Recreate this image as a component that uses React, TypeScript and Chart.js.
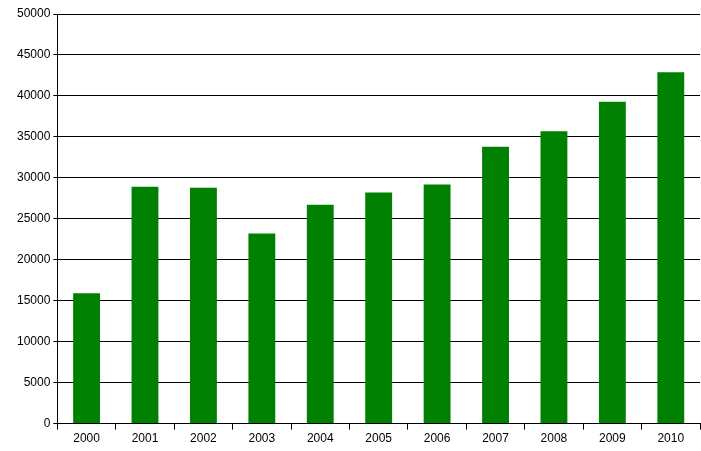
import React, { useEffect, useRef } from "react";
import { Chart, registerables } from "chart.js";

Chart.register(...registerables);

const years = ["2000", "2001", "2002", "2003", "2004", "2005", "2006", "2007", "2008", "2009", "2010"];
const values = [15900, 28900, 28800, 23200, 26700, 28200, 29200, 33800, 35700, 39300, 42900];

const App: React.FC = () => {
  const ref = useRef<HTMLCanvasElement>(null);

  useEffect(() => {
    document.body.style.margin = "0";
    if (!ref.current) return;
    const font = { family: "'Liberation Sans', Arial, sans-serif", size: 12 };
    const chart = new Chart(ref.current, {
      type: "bar",
      data: {
        labels: years,
        datasets: [
          {
            data: values,
            backgroundColor: "rgb(0, 128, 0)",
            barPercentage: 0.46,
            categoryPercentage: 1,
          },
        ],
      },
      options: {
        animation: false,
        responsive: false,
        plugins: { legend: { display: false }, tooltip: { enabled: false } },
        layout: { padding: { top: 14, right: 1, bottom: 3, left: 14 } },
        scales: {
          x: {
            grid: { offset: true, drawOnChartArea: false, color: "#000", tickLength: 6 },
            border: { color: "#000" },
            ticks: { color: "#000", font, padding: 2 },
          },
          y: {
            min: 0,
            max: 50000,
            ticks: { stepSize: 5000, color: "#000", font, padding: 3, callback: (v) => String(v) },
            grid: { color: "#000", tickLength: 4 },
            border: { color: "#000" },
          },
        },
      },
    });
    return () => chart.destroy();
  }, []);

  return (
    <div style={{ width: 701, height: 451, background: "#fff" }}>
      <canvas ref={ref} width={701} height={451} />
    </div>
  );
};

export default App;
